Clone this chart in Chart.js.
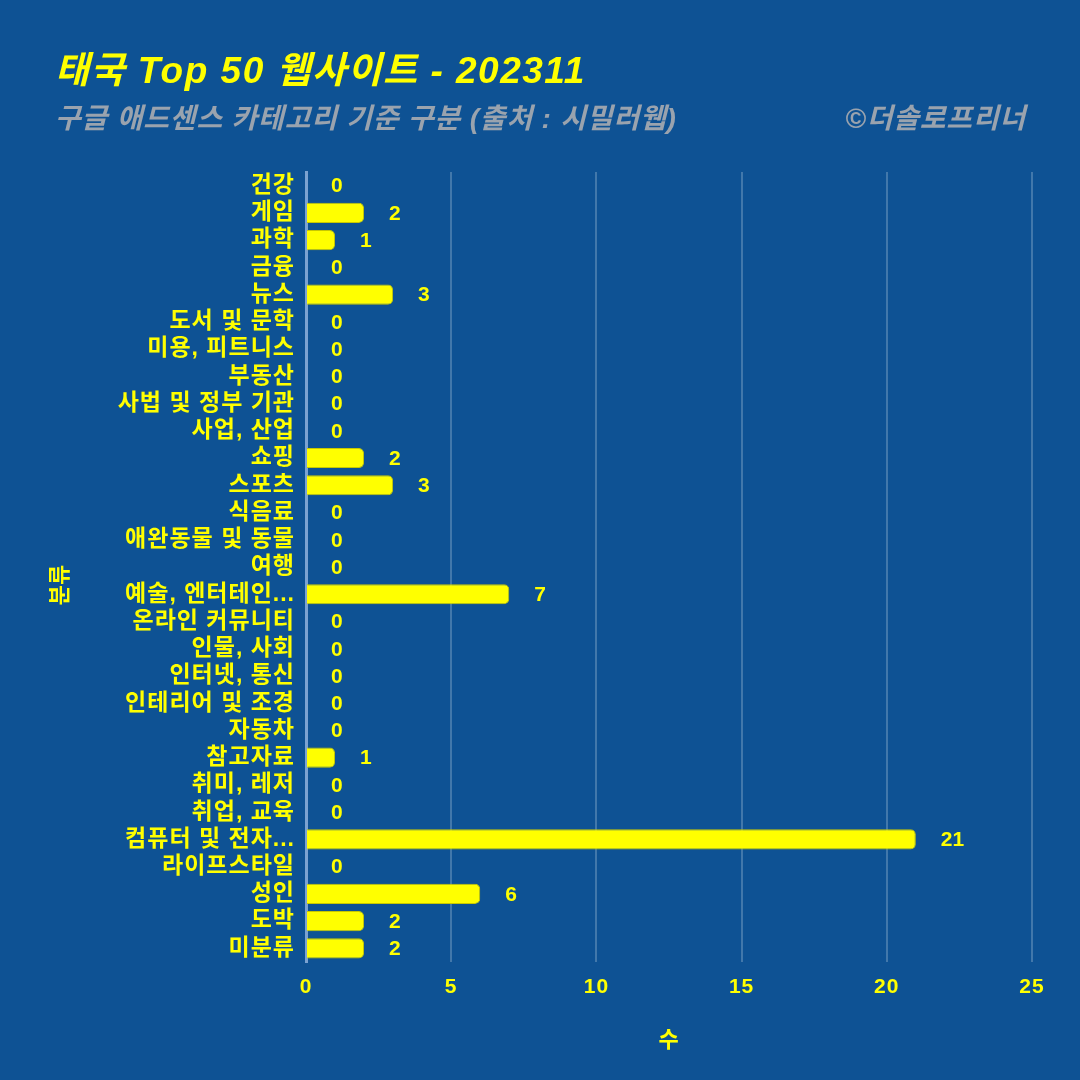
<!DOCTYPE html>
<html>
<head>
<meta charset="utf-8">
<script src="https://cdn.jsdelivr.net/npm/chart.js@4.4.0/dist/chart.umd.min.js"></script>
<style>
  html, body { margin: 0; padding: 0; background: #0E5294; }
  canvas { display: block; }
</style>
</head>
<body>
<canvas id="barChart" width="1080" height="1080"></canvas>
<script>
// 데이터
const categories = ['건강', '게임', '과학', '금융', '뉴스', '도서 및 문학', '미용, 피트니스', '부동산',
  '사법 및 정부 기관', '사업, 산업', '쇼핑', '스포츠', '식음료', '애완동물 및 동물', '여행',
  '예술, 엔터테인...', '온라인 커뮤니티', '인물, 사회', '인터넷, 통신', '인테리어 및 조경', '자동차',
  '참고자료', '취미, 레저', '취업, 교육', '컴퓨터 및 전자...', '라이프스타일', '성인', '도박', '미분류'];
const counts = [0, 2, 1, 0, 3, 0, 0, 0, 0, 0, 2, 3, 0, 0, 0, 7, 0, 0, 0, 0, 0, 1, 0, 0, 21, 0, 6, 2, 2];
const xTicks = [0, 5, 10, 15, 20, 25];

const titleText = '태국 Top 50 웹사이트 - 202311';
const subtitleText = '구글 애드센스 카테고리 기준 구분 (출처 : 시밀러웹)';
const creditText = '©더솔로프리너';
const yTitle = '분류';
const xTitle = '수';

const FONT = "'Liberation Sans', 'Noto Sans CJK KR', sans-serif";
const YELLOW = '#FFFF00';

// 제목, 부제목, 세로축 제목
const headerPlugin = {
  id: 'header',
  beforeDraw(chart) {
    const c = chart.ctx;
    c.save();
    c.fillStyle = '#0E5294';
    c.fillRect(0, 0, chart.width, chart.height);
    c.textBaseline = 'middle';
    c.fillStyle = YELLOW;
    c.font = 'italic bold 37px ' + FONT;
    c.textAlign = 'left';
    c.letterSpacing = '1.5px';
    c.fillText(titleText, 55, 73);
    c.fillStyle = '#9AA3AE';
    c.font = 'italic bold 28px ' + FONT;
    c.letterSpacing = '0.8px';
    c.fillText(subtitleText, 55, 120);
    c.textAlign = 'right';
    c.fillText(creditText, 1026, 120);
    c.letterSpacing = '0px';
    // 세로축 제목
    c.translate(61, 585);
    c.rotate(-Math.PI / 2);
    c.textAlign = 'center';
    c.fillStyle = YELLOW;
    c.font = 'bold 22px ' + FONT;
    c.fillText(yTitle, 0, 0);
    c.restore();
    c.letterSpacing = '1px';   // 축 라벨 글자 간격
  }
};

// 막대 끝 값 표시
const valueLabels = {
  id: 'valueLabels',
  afterDatasetsDraw(chart) {
    const c = chart.ctx;
    const meta = chart.getDatasetMeta(0);
    c.save();
    c.letterSpacing = '0px';
    c.fillStyle = YELLOW;
    c.font = 'bold 21px ' + FONT;
    c.textAlign = 'center';
    c.textBaseline = 'middle';
    meta.data.forEach((bar, i) => {
      const txt = String(counts[i]);
      c.fillText(txt, bar.x + 25 + c.measureText(txt).width / 2, bar.y + 1);
    });
    c.restore();
  }
};

const barChart = new Chart(document.getElementById('barChart'), {
  type: 'bar',
  data: {
    labels: categories,
    datasets: [{
      label: xTitle,
      data: counts,
      backgroundColor: YELLOW,
      borderColor: '#C8C800',
      borderWidth: 1,
      borderSkipped: 'start',
      borderRadius: 5,
      barPercentage: 0.74,
      categoryPercentage: 1
    }]
  },
  options: {
    indexAxis: 'y',
    responsive: false,
    animation: false,
    layout: { padding: { top: 172, right: 48, bottom: 0, left: 0 } },
    plugins: {
      legend: { display: false },
      tooltip: { enabled: false }
    },
    scales: {
      x: {
        min: 0,
        max: 25,
        afterBuildTicks: (scale) => { scale.ticks = xTicks.map(v => ({ value: v })); },
        afterFit: (scale) => { scale.height = 118; },
        grid: {
          color: (ctx) => ctx.tick && ctx.tick.value === 0 ? 'rgba(0,0,0,0)' : 'rgba(255,255,255,0.22)',
          lineWidth: 2,
          drawTicks: false
        },
        border: { display: false },
        ticks: {
          color: YELLOW,
          padding: 13,
          font: { family: FONT, size: 21, weight: 'bold' }
        },
        title: {
          display: true,
          text: xTitle,
          color: YELLOW,
          padding: { top: 0, bottom: 26 },
          font: { family: FONT, size: 22, weight: 'bold' }
        }
      },
      y: {
        afterFit: (scale) => { scale.width = 306; },
        grid: { display: false, drawTicks: false },
        border: { display: true, color: 'rgba(160,190,230,0.75)', width: 3 },
        ticks: {
          color: YELLOW,
          padding: 11,
          autoSkip: false,
          font: { family: FONT, size: 23, weight: 'bold' }
        }
      }
    }
  },
  plugins: [headerPlugin, valueLabels]
});
</script>
</body>
</html>
